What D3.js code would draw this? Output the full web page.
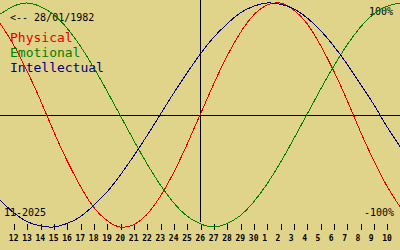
<!DOCTYPE html>
<html>
<head>
<meta charset="utf-8">
<script src="https://cdn.jsdelivr.net/npm/d3@7"></script>
<style>
  html, body { margin: 0; padding: 0; background: #e0d48a; }
  svg { display: block; }
  text { font-family: 'DejaVu Sans Mono', monospace; }
</style>
</head>
<body>
<div id="chart"></div>
<script>
// day offsets from the selected day (26 Nov 2025)
const dayOffsets = [-15, -14, -13, -12, -11, -10, -9, -8, -7, -6, -5, -4, -3, -2, -1, 0,
  1, 2, 3, 4, 5, 6, 7, 8, 9, 10, 11, 12, 13, 14, 15]

// cycle values in percent, one per day offset
const physical = [82, 63, 40, 14, -14, -40, -63, -82, -94, -100, -98, -89, -73, -52, -27, 0,
  27, 52, 73, 89, 98, 100, 94, 82, 63, 40, 14, -14, -40, -63, -82]
const emotional = [90, 97, 100, 97, 90, 78, 62, 43, 22, 0, -22, -43, -62, -78, -90, -97,
  -100, -97, -90, -78, -62, -43, -22, 0, 22, 43, 62, 78, 90, 97, 100]
const intellectual = [-76, -87, -95, -99, -100, -97, -91, -81, -69, -54, -37, -19, 0, 19, 37, 54,
  69, 81, 91, 97, 100, 99, 95, 87, 76, 62, 46, 28, 10, -10, -28]

// tick labels (day of month) for offsets -14 .. 14
const tickOffsets = dayOffsets.slice(1, -1)
const tickLabels = ['12', '13', '14', '15', '16', '17', '18', '19', '20', '21', '22', '23', '24',
  '25', '26', '27', '28', '29', '30', '1', '2', '3', '4', '5', '6', '7', '8', '9', '10']

const birthLabel = '<-- 28/01/1982'
const monthLabel = '11-2025'
const seriesNames = ['Physical', 'Emotional', 'Intellectual']
const seriesColors = ['#e00000', '#008000', '#000080']

const width = 400
const height = 250

const svg = d3.select('#chart').append('svg')
  .attr('width', width)
  .attr('height', height)

svg.append('rect')
  .attr('width', width)
  .attr('height', height)
  .attr('fill', '#e0d48a')

const xScale = d3.scaleLinear()
  .domain([-15, 15])
  .range([0, width])

const yScale = d3.scaleLinear()
  .domain([-100, 100])
  .range([227, 3])

// centre lines
svg.append('line')
  .attr('x1', 0)
  .attr('x2', width)
  .attr('y1', Math.round(yScale(0)) + 0.5)
  .attr('y2', Math.round(yScale(0)) + 0.5)
  .attr('stroke', '#000')
  .attr('shape-rendering', 'crispEdges')

svg.append('line')
  .attr('x1', Math.round(xScale(0)) + 0.5)
  .attr('x2', Math.round(xScale(0)) + 0.5)
  .attr('y1', 0)
  .attr('y2', 222)
  .attr('stroke', '#000')
  .attr('shape-rendering', 'crispEdges')

// day axis
const xAxis = d3.axisBottom(xScale)
  .tickValues(tickOffsets)
  .tickSize(6)
  .tickFormat((d, i) => tickLabels[i])

const xAxisContainer = svg.append('g')
  .attr('transform', 'translate(0.5, 224)')
  .call(xAxis)

xAxisContainer.select('.domain').remove()
xAxisContainer.selectAll('.tick line')
  .attr('stroke', '#000')
  .attr('shape-rendering', 'crispEdges')
xAxisContainer.selectAll('.tick text')
  .attr('text-anchor', 'start')
  .attr('x', -5.5)
  .attr('y', 16.5)
  .attr('dy', 0)
  .attr('fill', '#000')
  .attr('font-family', "'DejaVu Sans Mono', monospace")
  .attr('font-size', 8)
  .attr('font-weight', 'bold')

// labels
svg.append('text')
  .attr('x', 10)
  .attr('y', 21)
  .attr('font-size', 10)
  .text(birthLabel)

svg.selectAll('.legend')
  .data(seriesNames)
  .join('text')
  .attr('class', 'legend')
  .attr('x', 10)
  .attr('y', (d, i) => 42 + i * 15)
  .attr('font-size', 13)
  .attr('fill', (d, i) => seriesColors[i])
  .text(d => d)

svg.append('text')
  .attr('x', 393)
  .attr('y', 15)
  .attr('text-anchor', 'end')
  .attr('font-size', 10)
  .text('100%')

svg.append('text')
  .attr('x', 394)
  .attr('y', 216)
  .attr('text-anchor', 'end')
  .attr('font-size', 10)
  .text('-100%')

svg.append('text')
  .attr('x', 4)
  .attr('y', 216)
  .attr('font-size', 10)
  .text(monthLabel)

// curves
const line = d3.line()
  .x((d, i) => xScale(dayOffsets[i]))
  .y(d => yScale(d))
  .curve(d3.curveNatural)

svg.selectAll('.cycle')
  .data([physical, emotional, intellectual])
  .join('path')
  .attr('class', 'cycle')
  .attr('d', line)
  .attr('fill', 'none')
  .attr('stroke', (d, i) => seriesColors[i])
  .attr('stroke-width', 1)
  .attr('shape-rendering', 'crispEdges')
</script>
</body>
</html>
